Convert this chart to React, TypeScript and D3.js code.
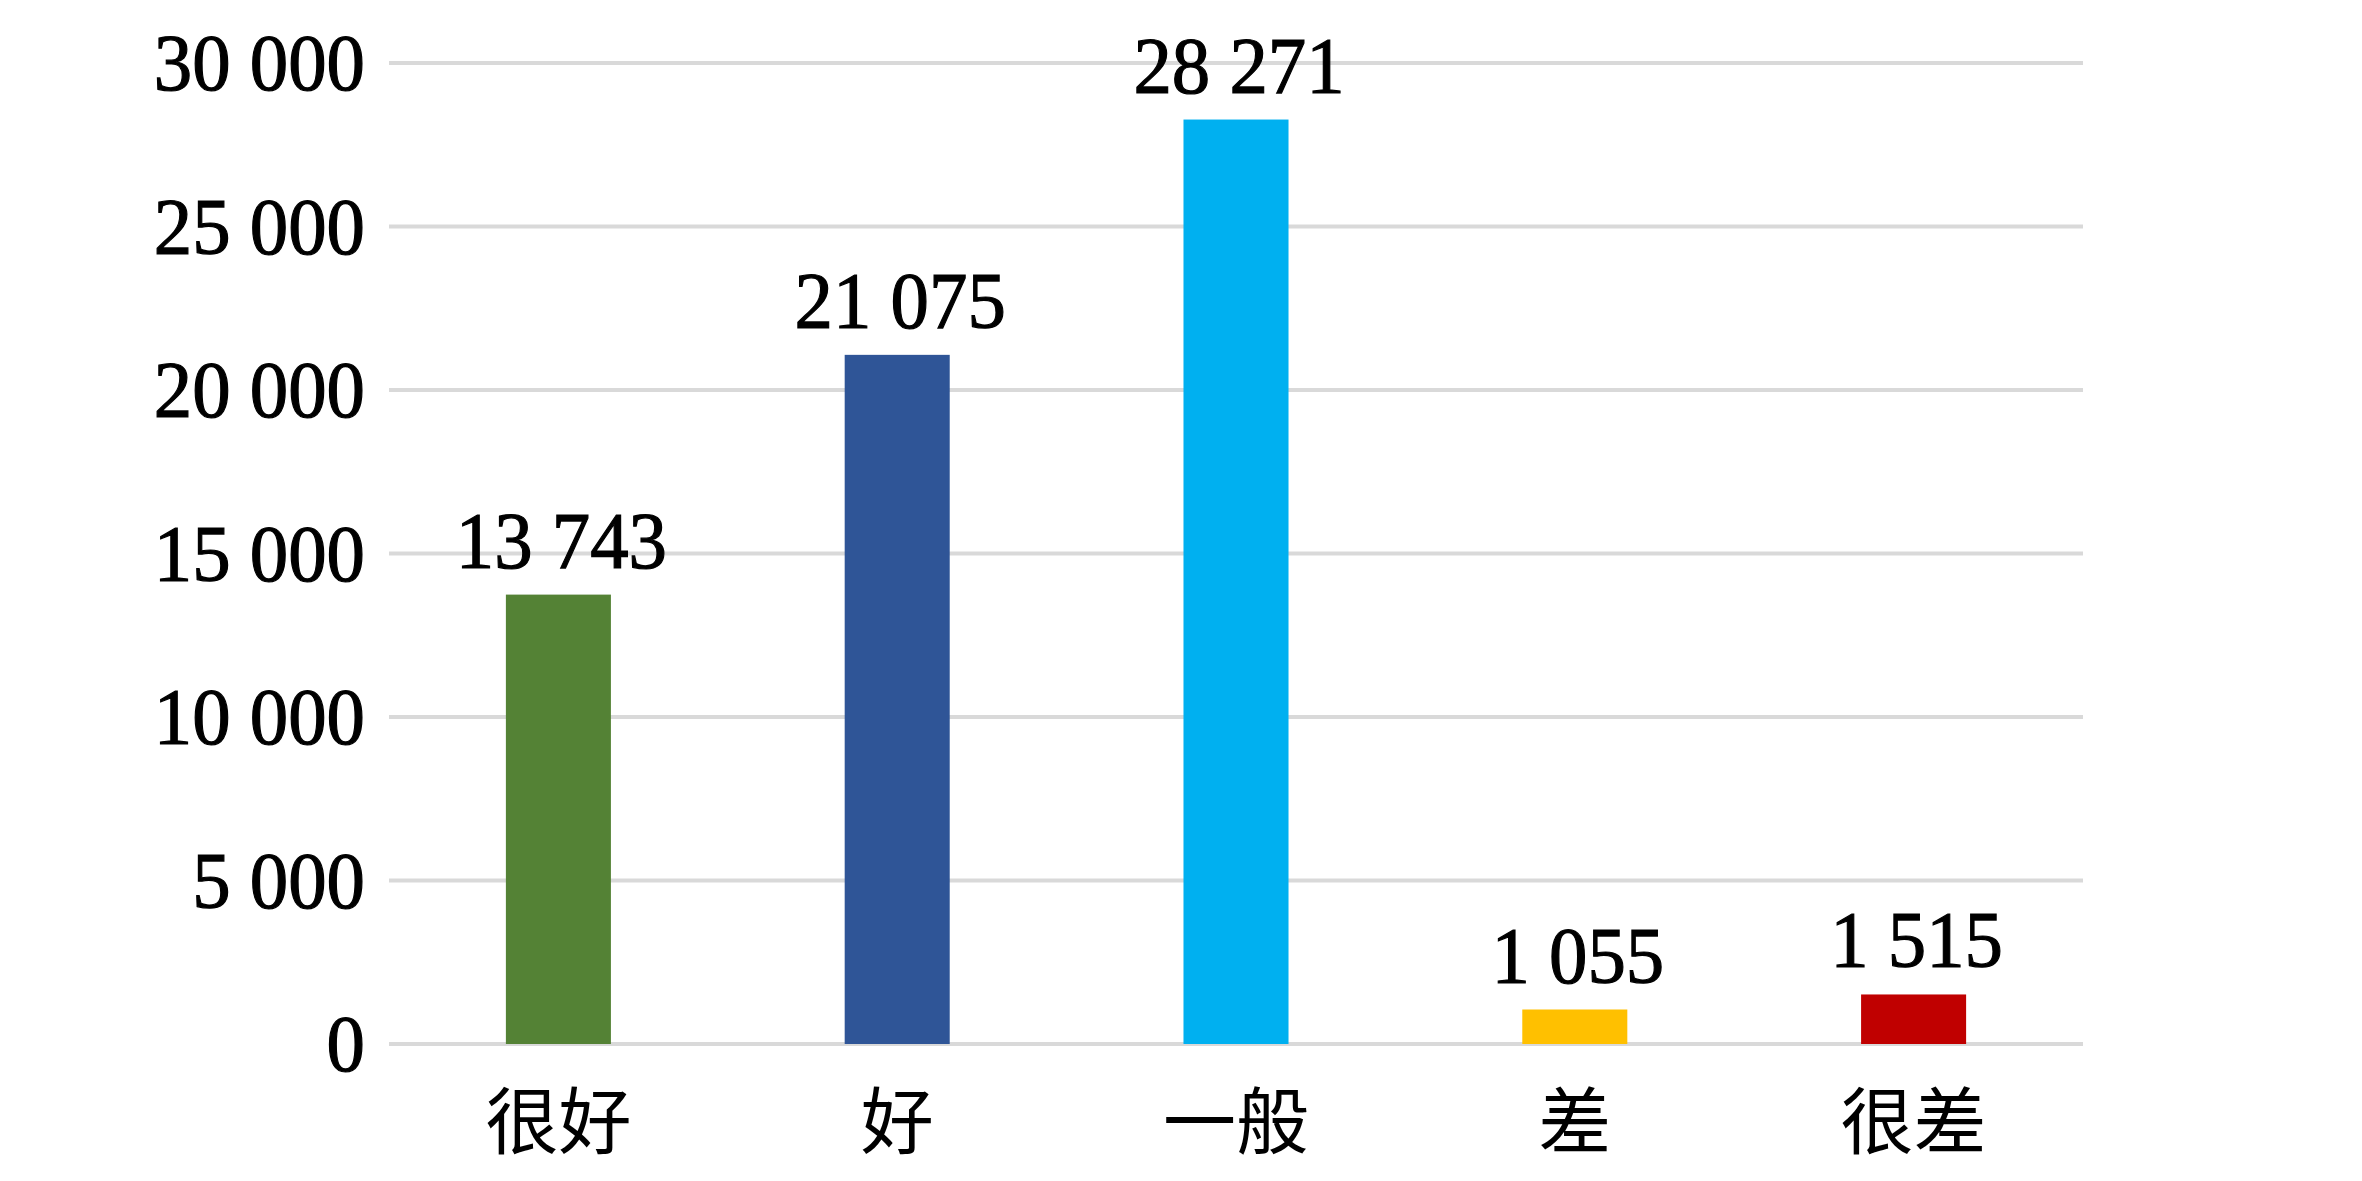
import React from "react";
import * as d3 from "d3";

const categories = ["很好", "好", "一般", "差", "很差"];
const values = [13743, 21075, 28271, 1055, 1515];
const barColors = ["#548235", "#2F5597", "#00B0F0", "#FFC000", "#C00000"];
const yTicks = [0, 5000, 10000, 15000, 20000, 25000, 30000];

const W = 2362;
const H = 1181;
const margin = { left: 389, right: 279, top: 63, bottom: 137 };

const fmt = (v: number) => d3.format(",")(v).replace(/,/g, " ");

export default function App() {
  const x = d3
    .scaleBand<string>()
    .domain(categories)
    .range([margin.left, W - margin.right])
    .paddingInner(0.69)
    .paddingOuter(0.345);
  const y = d3
    .scaleLinear()
    .domain([0, 30000])
    .range([H - margin.bottom, margin.top]);

  const numFont = "'Liberation Serif', 'Times New Roman', serif";
  const cjkFont = "'Noto Sans CJK SC', sans-serif";

  return (
    <svg
      width={W}
      height={H}
      style={{ position: "absolute", left: 0, top: 0, display: "block", background: "#fff" }}
    >
      <rect x={0} y={0} width={W} height={H} fill="#fff" />
      {yTicks.map((t) => (
        <g key={t}>
          <line
            x1={margin.left}
            x2={W - margin.right}
            y1={y(t)}
            y2={y(t)}
            stroke="#D9D9D9"
            strokeWidth={4}
          />
          <text
            transform={`translate(${margin.left - 24},${y(t)}) scale(0.96,1)`}
            dy="0.34em"
            textAnchor="end"
            fontFamily={numFont}
            fontSize={80}
            fill="#000"
            stroke="#000"
            strokeWidth={1.2}
          >
            {fmt(t)}
          </text>
        </g>
      ))}
      {categories.map((c, i) => (
        <g key={c}>
          <rect
            x={x(c)}
            y={y(values[i])}
            width={x.bandwidth()}
            height={y(0) - y(values[i])}
            fill={barColors[i]}
          />
          <text
            transform={`translate(${(x(c) as number) + x.bandwidth() / 2 + 3},${y(values[i]) - 27}) scale(0.96,1)`}
            textAnchor="middle"
            fontFamily={numFont}
            fontSize={80}
            fill="#000"
            stroke="#000"
            strokeWidth={1.2}
          >
            {fmt(values[i])}
          </text>
          <text
            x={(x(c) as number) + x.bandwidth() / 2}
            y={1122}
            dy="0.36em"
            textAnchor="middle"
            fontFamily={cjkFont}
            fontSize={73}
            fill="#000"
          >
            {c}
          </text>
        </g>
      ))}
    </svg>
  );
}
